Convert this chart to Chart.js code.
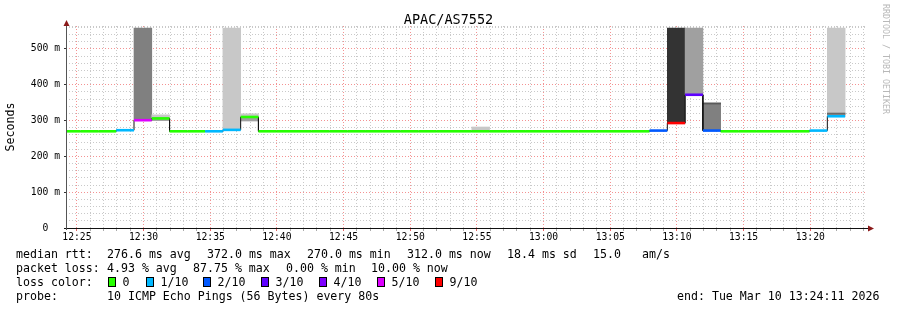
<!DOCTYPE html>
<html>
<head>
<meta charset="utf-8">
<script src="https://cdn.jsdelivr.net/npm/chart.js@4"></script>
<style>
html,body{margin:0;padding:0;background:#fff;}
#wrap{position:relative;width:897px;height:310px;overflow:hidden;font-family:"DejaVu Sans Mono",monospace;color:#000;}
#c{position:absolute;left:0;top:0;}
.t{position:absolute;white-space:pre;font-size:11.6px;line-height:14px;}
.box{position:absolute;width:8px;height:10px;box-sizing:border-box;border:1px solid #000;}
#title{position:absolute;left:0;top:11px;width:897px;text-align:center;font-size:13.5px;line-height:16px;}
#mark{position:absolute;left:880px;top:4px;writing-mode:vertical-rl;font-size:8.3px;line-height:12px;color:#b8b8b8;white-space:pre;}
</style>
</head>
<body>
<div id="wrap">
<canvas id="c" width="897" height="310"></canvas>
<div id="title">APAC/AS7552</div>
<div id="mark">RRDTOOL / TOBI OETIKER</div>
<div id="legend"></div>
</div>
<script>
// ---------------- data ----------------
const firstStepTime = '12:23:57';   // start of first 80 s probe step
const probeInterval = 80;           // seconds per step
const viewStartTime = '12:24:11';
const viewEndTime = '13:24:11';

// median rtt per step (ms)
const medianMs = [
  270,270,270,273,301,306,270,270,270,274,310,
  270,270,270,270,270,270,270,270,270,270,270,
  270,270,270,270,270,270,270,270,270,270,270,
  272,293,372,272,270,270,270,270,270,272,312
];
// lost pings (of 10) per step
const lossOf10 = [
  0,0,0,1,5,0,0,0,1,1,0,
  0,0,0,0,0,0,0,0,0,0,0,
  0,0,0,0,0,0,0,0,0,0,0,
  2,9,3,2,0,0,0,0,0,1,1
];
// smoke (ping spread) bands
const smokeStep = [4,5,9,10,23,34,35,36,43];
const smokeLowMs = [300,300,274,299,270,293,372,272,312];
const smokeHighMs = [558,316,558,319,282,558,558,349,558];
const smokeTone = ['#808080','#c8c8c8','#c8c8c8','#c8c8c8','#c8c8c8','#333333','#a0a0a0','#808080','#c8c8c8'];
const coreStep = [5,10,36,43];
const coreLowMs = [300,299,346,317];
const coreHighMs = [304,309,349,321];
const coreTone = ['#a0a0a0','#a0a0a0','#5a5a5a','#6a6a6a'];

const lossBins = [0,1,2,3,4,5,9];
const lossBinLabels = ['0','1/10','2/10','3/10','4/10','5/10','9/10'];
const lossBinColors = ['#26ff00','#00b8ff','#0059ff','#5e00ff','#7e00ff','#dd00ff','#ff0000'];

const yTickLabels = ['0  ','100 m','200 m','300 m','400 m','500 m'];
const xTickLabels = ['12:25','12:30','12:35','12:40','12:45','12:50','12:55','13:00','13:05','13:10','13:15','13:20'];
const firstXTick = '12:25:00';

const statsMedian = ['median rtt:','276.6 ms avg','372.0 ms max','270.0 ms min','312.0 ms now','18.4 ms sd','15.0','am/s'];
const statsLoss = ['packet loss:','4.93 % avg','87.75 % max','0.00 % min','10.00 % now'];
const probeText = ['probe:','10 ICMP Echo Pings (56 Bytes) every 80s'];
const endText = 'end: Tue Mar 10 13:24:11 2026';

// ---------------- helpers ----------------
function hms(s){ const p = s.split(':').map(Number); return p[0]*3600 + p[1]*60 + (p[2]||0); }
const T0 = hms(firstStepTime), VS = hms(viewStartTime), VE = hms(viewEndTime), XT0 = hms(firstXTick);
const stepStart = k => T0 + k*probeInterval;
function lossColor(L){ let c = lossBinColors[0]; lossBins.forEach((b,i)=>{ if (L >= b) c = lossBinColors[i]; }); return c; }
const isMajorX = v => Math.abs(((v - XT0) % 300 + 300) % 300) < 1e-6;

const medianLine = [], colorLine = [];
medianMs.forEach((m,k)=>{
  const s = stepStart(k), e = s + probeInterval;
  medianLine.push({x:s,y:m},{x:e,y:m});
  colorLine.push({x:s,y:m},{x:e,y:m},{x:e,y:null});
});
const smokeData = smokeStep.map((k,i)=>({x: stepStart(k)+probeInterval/2, y:[smokeLowMs[i], smokeHighMs[i]]}));
const coreData = coreStep.map((k,i)=>({x: stepStart(k)+probeInterval/2, y:[coreLowMs[i], coreHighMs[i]]}));

// ---------------- legend (html text) ----------------
const leg = document.getElementById('legend');
function addText(txt, x, y){ const d = document.createElement('div'); d.className='t'; d.style.left=x+'px'; d.style.top=y+'px'; d.textContent=txt; leg.appendChild(d); }
const medX = [16,107,207,307,407,507,593,642];
statsMedian.forEach((t,i)=>addText(t, medX[i], 247));
const lossX = [16,107,193,286,371];
statsLoss.forEach((t,i)=>addText(t, lossX[i], 261));
addText('loss color:', 16, 275);
const boxX = [108,146,203,261,319,377,435];
lossBinLabels.forEach((t,i)=>{
  const b = document.createElement('div'); b.className='box';
  b.style.left = boxX[i]+'px'; b.style.top='277px'; b.style.background = lossBinColors[i];
  leg.appendChild(b);
  addText(t, boxX[i]+14.5, 275);
});
addText(probeText[0], 16, 289);
addText(probeText[1], 107, 289);
addText(endText, 677, 289);

// ---------------- chart ----------------
const MINOR = 'rgba(195,195,195,0.9)';
const MAJOR = 'rgba(240,110,110,0.75)';
Chart.defaults.font.family = "'DejaVu Sans Mono', monospace";
Chart.defaults.color = '#000';

const axesPlugin = {
  id: 'rrdAxes',
  afterDraw(chart){
    const {ctx, chartArea:a} = chart;
    ctx.save();
    ctx.lineWidth = 1;
    ctx.strokeStyle = '#111';
    ctx.beginPath(); ctx.moveTo(a.left-2, a.bottom+0.5); ctx.lineTo(a.right+4, a.bottom+0.5); ctx.stroke();
    ctx.strokeStyle = '#555';
    ctx.beginPath(); ctx.moveTo(a.left+0.5, a.bottom+2); ctx.lineTo(a.left+0.5, a.top-3); ctx.stroke();
    ctx.fillStyle = '#8b1a1a';
    ctx.beginPath(); ctx.moveTo(a.right+2, a.bottom-2.5); ctx.lineTo(a.right+8, a.bottom+0.5); ctx.lineTo(a.right+2, a.bottom+3.5); ctx.closePath(); ctx.fill();
    ctx.beginPath(); ctx.moveTo(a.left-2.5, a.top); ctx.lineTo(a.left+0.5, a.top-6); ctx.lineTo(a.left+3.5, a.top); ctx.closePath(); ctx.fill();
    ctx.restore();
  }
};

new Chart(document.getElementById('c'), {
  type: 'bar',
  data: {
    datasets: [
      { type:'line', xAxisID:'x', data: colorLine, order:0, borderWidth:2.6, pointRadius:0, tension:0,
        borderCapStyle:'butt', spanGaps:false, fill:false, borderColor:'#26ff00',
        segment:{ borderColor: c => lossColor(lossOf10[Math.floor(c.p0DataIndex/3)]) } },
      { type:'line', xAxisID:'x', data: medianLine, order:1, borderWidth:1, borderColor:'#111', pointRadius:0, tension:0, fill:false },
      { type:'bar', xAxisID:'xs', data: coreData, order:2, backgroundColor: coreTone, borderWidth:0, grouped:false, barPercentage:1, categoryPercentage:1 },
      { type:'bar', xAxisID:'xs', data: smokeData, order:3, backgroundColor: smokeTone, borderWidth:0, grouped:false, barPercentage:1, categoryPercentage:1 }
    ]
  },
  options: {
    responsive:false, animation:false, devicePixelRatio:1,
    layout:{ padding:{ top:26, right:31, left:0, bottom:0 } },
    plugins:{ legend:{display:false}, tooltip:{enabled:false}, title:{display:false} },
    scales:{
      x:{ type:'linear', min:VS, max:VE, bounds:'data', offset:false, position:'bottom',
          afterFit: s => { s.height = 82; },
          afterBuildTicks: s => { const t = []; for (let v = Math.ceil(VS/60)*60; v <= VE; v += 60) t.push({value:v}); s.ticks = t; },
          ticks:{ autoSkip:false, maxRotation:0, minRotation:0, padding:1,
                  font:{size:9.7}, color:'#000',
                  callback: v => (isMajorX(v) ? (xTickLabels[Math.round((v - XT0)/300)] || '') : '') },
          grid:{ offset:false, lineWidth:1, tickLength:3,
                 color: c => (c.tick && isMajorX(c.tick.value)) ? MAJOR : MINOR,
                 tickColor: c => (c.tick && isMajorX(c.tick.value)) ? 'rgba(220,60,60,0.8)' : 'rgba(150,150,150,0.8)' },
          border:{ display:false, dash:[1,2] },
          z:1 },
      xs:{ type:'linear', min:VS, max:VE, bounds:'data', offset:false, display:false,
           ticks:{ stepSize:3600 }, grid:{ offset:false, display:false } },
      y:{ type:'linear', min:0, max:564, bounds:'data', position:'left',
          afterFit: s => { s.width = 66; },
          ticks:{ stepSize:20, includeBounds:false, autoSkip:false, padding:4, font:{size:9.7}, color:'#000',
                  callback: v => (v % 100 === 0 ? (yTickLabels[v/100] || '') : '') },
          grid:{ lineWidth:1, tickLength:2,
                 color: c => (c.tick && c.tick.value === 0) ? 'rgba(0,0,0,0)' : ((c.tick && c.tick.value % 100 === 0) ? MAJOR : MINOR),
                 tickColor: c => (c.tick && c.tick.value % 100 === 0) ? '#333' : 'rgba(0,0,0,0)' },
          border:{ display:false, dash:[1,2] },
          title:{ display:true, text:'Seconds', font:{size:11.6}, padding:{top:4,bottom:0}, color:'#000' },
          z:1 }
    }
  },
  plugins:[axesPlugin]
});
</script>
</body>
</html>
